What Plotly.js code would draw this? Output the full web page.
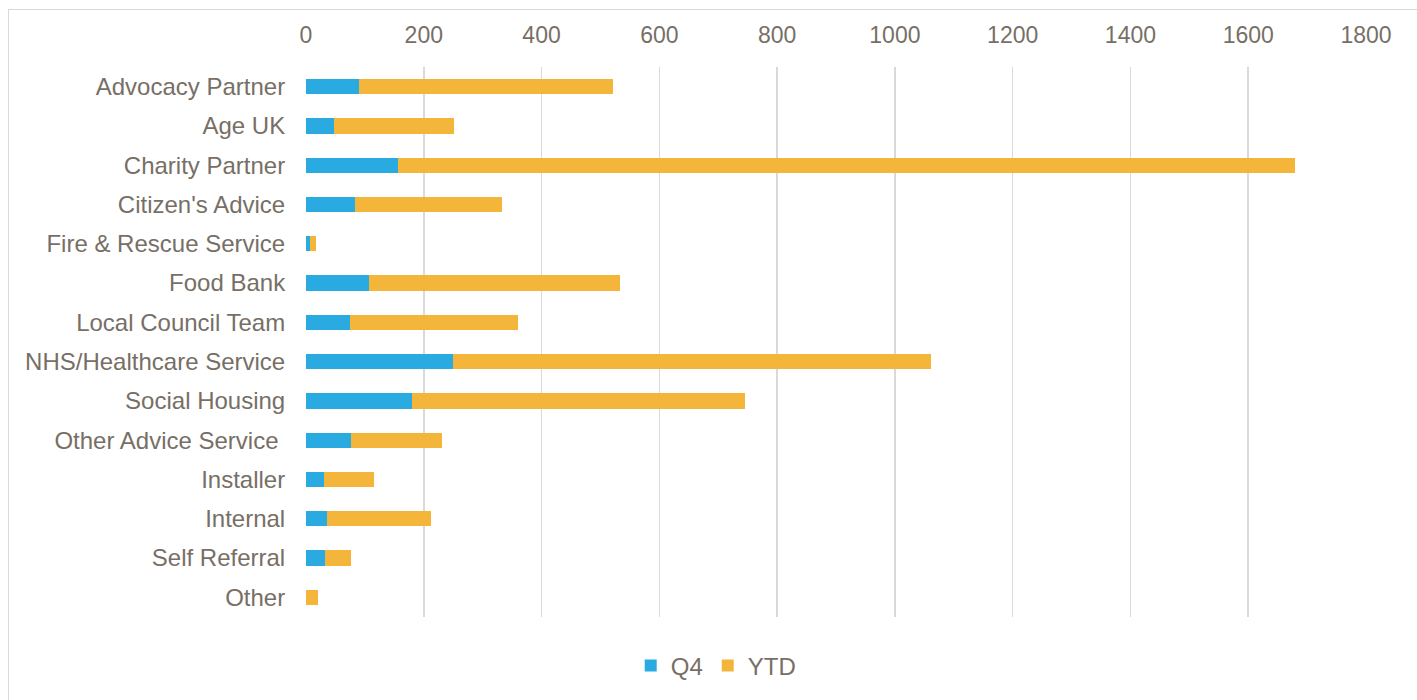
<!DOCTYPE html>
<html>
<head>
<meta charset="utf-8">
<script src="https://cdn.plot.ly/plotly-3.0.1.min.js"></script>
<style>
  html, body { margin: 0; padding: 0; background: #fff; }
  #chart { width: 1417px; height: 700px; }
  #frame { position: absolute; left: 8px; top: 9px; width: 1430px; height: 720px; border: 1px solid #D9D9D9; pointer-events: none; }
</style>
</head>
<body>
<div id="chart"></div>
<div id="frame"></div>
<script>
const categories = [
  "Advocacy Partner", "Age UK", "Charity Partner", "Citizen's Advice",
  "Fire & Rescue Service", "Food Bank", "Local Council Team",
  "NHS/Healthcare Service", "Social Housing", "Other Advice Service\u00a0",
  "Installer", "Internal", "Self Referral", "Other"
];
const q4Values  = [90, 47, 157, 83, 7, 107, 75, 250, 180, 76, 31, 36, 32, 0];
const ytdValues = [431, 205, 1522, 249, 10, 426, 285, 812, 566, 155, 84, 176, 44, 21];
const xTickValues = [0, 200, 400, 600, 800, 1000, 1200, 1400, 1600, 1800];

const textColor = "#776F66";
const fontFamily = "Arial, 'Liberation Sans', sans-serif";

const traces = [
  { type: "bar", orientation: "h", name: "Q4", y: categories, x: q4Values,
    marker: { color: "#29ABE2" }, width: 0.39 },
  { type: "bar", orientation: "h", name: "YTD", y: categories, x: ytdValues,
    marker: { color: "#F4B63A" }, width: 0.39 }
];

const layout = {
  width: 1417, height: 700,
  barmode: "stack",
  paper_bgcolor: "#fff", plot_bgcolor: "#fff",
  font: { family: fontFamily, size: 24, color: textColor },
  margin: { l: 306, r: 51, t: 67, b: 83 },
  showlegend: true,
  legend: { orientation: "h", x: 0.387, xanchor: "center", y: -0.089, yanchor: "middle",
            font: { size: 24, color: textColor }, itemwidth: 30, traceorder: "normal" },
  xaxis: {
    side: "top", range: [0, 1800], tickvals: xTickValues,
    showgrid: true, gridcolor: "#D9D9D9", gridwidth: 1.5,
    zeroline: false, showline: false,
    ticks: "outside", ticklen: 14, tickcolor: "rgba(0,0,0,0)",
    tickfont: { size: 23, color: textColor }, fixedrange: true
  },
  yaxis: {
    autorange: "reversed", type: "category",
    showgrid: false, zeroline: false, showline: false,
    ticks: "outside", ticklen: 15, tickcolor: "rgba(0,0,0,0)",
    tickfont: { size: 24, color: textColor }, fixedrange: true
  }
};

Plotly.newPlot("chart", traces, layout, { displayModeBar: false, staticPlot: true });
</script>
</body>
</html>
